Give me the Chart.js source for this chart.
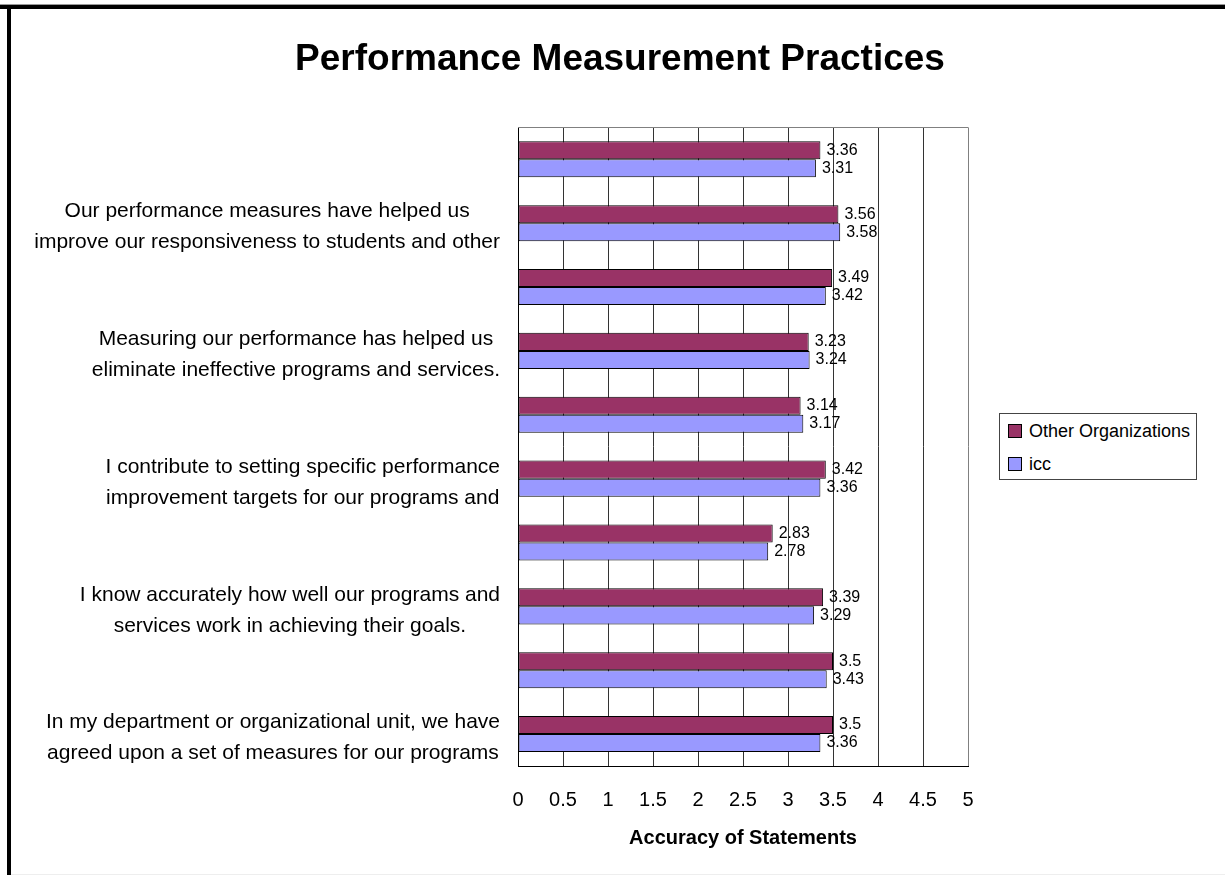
<!DOCTYPE html>
<html>
<head>
<meta charset="utf-8">
<title>Performance Measurement Practices</title>
<script src="https://cdn.jsdelivr.net/npm/chart.js@4.4.0/dist/chart.umd.min.js"></script>
<style>
  html, body { margin: 0; padding: 0; background: #fff; }
  body { width: 1225px; height: 875px; position: relative; overflow: hidden; font-family: "Liberation Sans", Arial, sans-serif; }
  #chart { position: absolute; left: 0; top: 0; }
  .frame-top { position: absolute; left: 0; top: 4px; width: 1225px; height: 5px; background: #000; border-top: 1px solid #999; box-sizing: border-box; }
  .frame-left { position: absolute; left: 7px; top: 5px; width: 4px; height: 870px; background: #000; }
  .frame-bottom { position: absolute; left: 11px; top: 874px; width: 1214px; height: 1px; background: #eee; }
  #legend { position: absolute; left: 999px; top: 413px; width: 198px; height: 67px; border: 1px solid #444; box-sizing: border-box; background: #fff; }
  .legend-item { position: absolute; left: 8px; height: 20px; display: flex; align-items: center; font-size: 18px; color: #000; white-space: nowrap; }
  .legend-box { width: 12px; height: 12px; border: 1px solid #000; margin-right: 7px; }
</style>
</head>
<body>
<canvas id="chart" width="1225" height="875"></canvas>
<div class="frame-top"></div>
<div class="frame-left"></div>
<div class="frame-bottom"></div>
<div id="legend"></div>
<script>
// categories top to bottom; only every other statement label is shown in the original
const categories = [
  [''],
  ['Our performance measures have helped us', 'improve our responsiveness to students and other'],
  [''],
  ['Measuring our performance has helped us ', 'eliminate ineffective programs and services.'],
  [''],
  ['I contribute to setting specific performance', 'improvement targets for our programs and'],
  [''],
  ['I know accurately how well our programs and', 'services work in achieving their goals.'],
  [''],
  ['In my department or organizational unit, we have', 'agreed upon a set of measures for our programs']
];
const otherOrgValues = [3.36, 3.56, 3.49, 3.23, 3.14, 3.42, 2.83, 3.39, 3.5, 3.5];
const iccValues = [3.31, 3.58, 3.42, 3.24, 3.17, 3.36, 2.78, 3.29, 3.43, 3.36];
const xTickValues = [0, 0.5, 1, 1.5, 2, 2.5, 3, 3.5, 4, 4.5, 5];

const FONT = '"Liberation Sans", Arial, sans-serif';

// statement labels: block right-aligned to the axis, lines centred on each other
const statementLabels = {
  id: 'statementLabels',
  afterDraw(chart) {
    const ctx = chart.ctx;
    const y = chart.scales.y;
    ctx.save();
    ctx.font = '21px ' + FONT;
    ctx.fillStyle = '#000';
    ctx.textAlign = 'center';
    ctx.textBaseline = 'middle';
    categories.forEach((lines, i) => {
      if (!lines.join('').trim()) return;
      const w = Math.max(...lines.map(l => ctx.measureText(l.trim()).width));
      const cx = y.right - 18 - w / 2;
      const cy = y.getPixelForValue(i) + 4;
      lines.forEach((l, j) => ctx.fillText(l.trim(), cx, cy + (j - (lines.length - 1) / 2) * 31));
    });
    ctx.restore();
  }
};

// value labels at the end of each bar
const valueLabels = {
  id: 'valueLabels',
  afterDatasetsDraw(chart) {
    const ctx = chart.ctx;
    ctx.save();
    ctx.font = '16px ' + FONT;
    ctx.fillStyle = '#000';
    ctx.textAlign = 'left';
    ctx.textBaseline = 'middle';
    chart.data.datasets.forEach((ds, di) => {
      chart.getDatasetMeta(di).data.forEach((bar, i) => {
        ctx.fillText(String(ds.data[i]), bar.x + 6, bar.y);
      });
    });
    ctx.restore();
  }
};

// gray top edge of the plot area
const plotFrame = {
  id: 'plotFrame',
  beforeDatasetsDraw(chart) {
    const {ctx, chartArea} = chart;
    ctx.save();
    ctx.strokeStyle = '#808080';
    ctx.lineWidth = 1;
    ctx.beginPath();
    ctx.moveTo(chartArea.left, Math.round(chartArea.top) + 0.5);
    ctx.lineTo(chartArea.right, Math.round(chartArea.top) + 0.5);
    ctx.stroke();
    ctx.restore();
  }
};

const chart = new Chart(document.getElementById('chart').getContext('2d'), {
  type: 'bar',
  data: {
    labels: categories,
    datasets: [
      {
        label: 'Other Organizations',
        data: otherOrgValues,
        backgroundColor: '#993366',
        borderColor: '#000',
        borderWidth: 1,
        borderSkipped: false
      },
      {
        label: 'icc',
        data: iccValues,
        backgroundColor: '#9999FF',
        borderColor: '#000',
        borderWidth: 1,
        borderSkipped: false
      }
    ]
  },
  options: {
    indexAxis: 'y',
    responsive: false,
    animation: false,
    datasets: { bar: { categoryPercentage: 0.565, barPercentage: 1 } },
    layout: { padding: { left: 15, right: 0, top: 0, bottom: 0 } },
    plugins: {
      legend: { display: false },
      tooltip: { enabled: false },
      title: {
        display: true,
        text: 'Performance Measurement Practices',
        color: '#000',
        font: { family: FONT, size: 37, weight: 'bold' },
        padding: { top: 38, bottom: 45 }
      }
    },
    scales: {
      x: {
        min: 0,
        max: 5,
        afterBuildTicks: s => { s.ticks = xTickValues.map(v => ({ value: v })); },
        afterFit: s => { s.height = 109; },
        grid: {
          color: c => (c.tick && c.tick.value === 5 ? '#808080' : '#333'),
          lineWidth: 1,
          drawTicks: false
        },
        border: { display: true, color: '#000' },
        ticks: {
          color: '#000',
          font: { family: FONT, size: 20 },
          padding: 22,
          maxRotation: 0,
          callback: v => String(v)
        },
        title: {
          display: true,
          text: 'Accuracy of Statements',
          color: '#000',
          font: { family: FONT, size: 20, weight: 'bold' },
          padding: { top: 0, bottom: 25 }
        }
      },
      y: {
        afterFit: s => { s.width = 503; },
        grid: { display: false },
        border: { display: true, color: '#000' },
        ticks: { display: false }
      },
      // empty right-hand axis keeps room for the legend
      side: {
        type: 'linear',
        position: 'right',
        afterFit: s => { s.width = 257; },
        grid: { display: false },
        border: { display: false },
        ticks: { display: false }
      }
    }
  },
  plugins: [plotFrame, valueLabels, statementLabels]
});

// html legend from the datasets
const legendEl = document.getElementById('legend');
chart.data.datasets.forEach((ds, i) => {
  const item = document.createElement('div');
  item.className = 'legend-item';
  item.style.top = (7 + i * 33) + 'px';
  const box = document.createElement('span');
  box.className = 'legend-box';
  box.style.background = ds.backgroundColor;
  const text = document.createElement('span');
  text.textContent = ds.label;
  item.appendChild(box);
  item.appendChild(text);
  legendEl.appendChild(item);
});
</script>
</body>
</html>
